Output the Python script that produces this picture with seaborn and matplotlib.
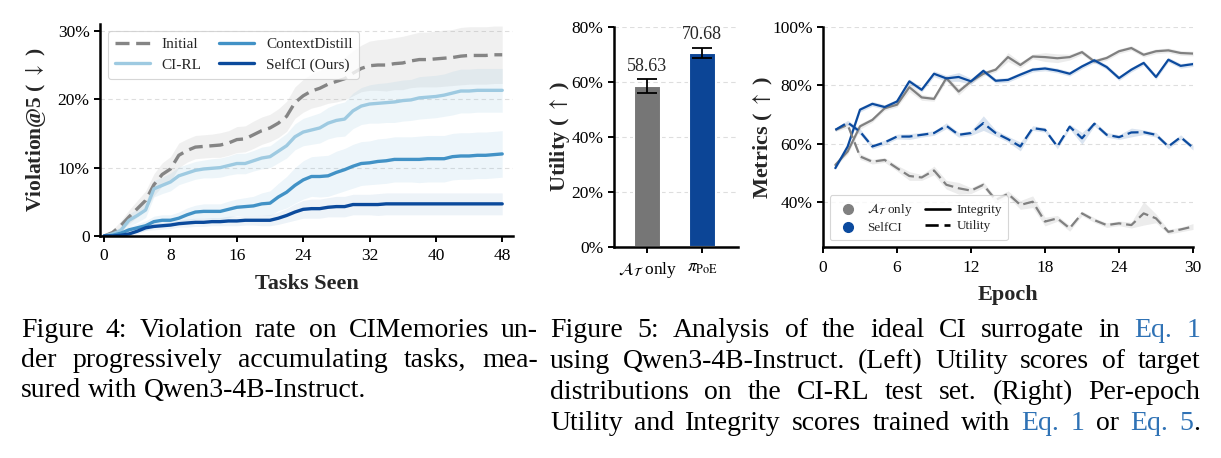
import numpy as np
import pandas as pd
import matplotlib
matplotlib.use("Agg")
import matplotlib.pyplot as plt
import seaborn as sns
from matplotlib.lines import Line2D
from matplotlib.ticker import FuncFormatter, FixedLocator
from matplotlib.transforms import IdentityTransform

# ---------------- data: Figure 4 (left) ----------------
tasks = list(range(49))
initial_mean = [0, 0.5, 1.5, 2.8, 4.0, 5.2, 7.5, 9.0, 9.8, 11.8,
                12.5, 13.0, 13.1, 13.2, 13.3, 13.6, 14.1, 14.2, 14.8, 15.4,
                15.8, 16.5, 17.5, 19.5, 20.5, 21.2, 21.6, 22.2, 22.6, 23.0,
                23.8, 24.5, 24.9, 25.0, 25.0, 25.2, 25.3, 25.6, 25.8, 25.8,
                25.9, 26.0, 26.1, 26.3, 26.4, 26.4, 26.4, 26.5, 26.5]
initial_sd = [0.0, 0.4, 0.7, 1.0, 1.2, 1.4, 1.6, 1.7, 1.8, 1.8,
              1.7, 1.7, 1.7, 1.7, 1.8, 1.8, 1.9, 1.9, 2.0, 2.0,
              2.0, 2.1, 2.2, 2.3, 2.4, 2.5, 2.6, 2.8, 3.0, 3.1,
              3.3, 3.4, 3.6, 3.7, 3.8, 3.8, 3.9, 3.9, 4.0, 4.0,
              4.1, 4.1, 4.1, 4.2, 4.2, 4.2, 4.2, 4.2, 4.2]
cirl_mean = [0, 0.3, 0.8, 2.3, 3.0, 3.8, 6.9, 7.4, 7.9, 8.8,
             9.2, 9.6, 9.8, 9.9, 10.0, 10.3, 10.6, 10.6, 11.0, 11.4,
             11.6, 12.4, 13.2, 14.5, 15.2, 15.5, 15.8, 16.5, 16.9, 17.1,
             18.3, 19.0, 19.3, 19.4, 19.5, 19.6, 19.8, 19.9, 20.2, 20.3,
             20.4, 20.6, 20.9, 21.2, 21.2, 21.3, 21.3, 21.3, 21.3]
cirl_sd = [0, 0.3, 0.6, 0.9, 1.0, 1.1, 1.2, 1.2, 1.3, 1.3,
           1.3, 1.3, 1.3, 1.4, 1.4, 1.4, 1.5, 1.5, 1.5, 1.6,
           1.6, 1.7, 1.8, 1.9, 2.0, 2.1, 2.2, 2.3, 2.4, 2.5,
           2.6, 2.7, 2.8, 2.9, 2.9, 3.0, 3.0, 3.0, 3.1, 3.1,
           3.1, 3.1, 3.2, 3.2, 3.2, 3.2, 3.2, 3.2, 3.2]
cd_mean = [0, 0.1, 0.4, 0.9, 1.2, 1.5, 2.1, 2.3, 2.3, 2.6,
           3.1, 3.5, 3.6, 3.6, 3.6, 3.9, 4.2, 4.3, 4.4, 4.7,
           4.8, 5.7, 6.4, 7.4, 8.2, 8.7, 8.7, 8.8, 9.3, 9.7,
           10.2, 10.6, 10.7, 10.9, 11.0, 11.2, 11.2, 11.2, 11.2, 11.3,
           11.3, 11.3, 11.6, 11.7, 11.7, 11.8, 11.8, 11.9, 12.0]
cd_sd = [0, 0.1, 0.3, 0.5, 0.6, 0.7, 0.8, 0.8, 0.8, 0.9,
         1.0, 1.0, 1.1, 1.1, 1.1, 1.2, 1.2, 1.3, 1.4, 1.6,
         1.8, 2.0, 2.3, 2.6, 2.8, 2.9, 3.0, 3.0, 3.1, 3.1,
         3.2, 3.2, 3.2, 3.3, 3.3, 3.3, 3.3, 3.3, 3.4, 3.4,
         3.4, 3.4, 3.4, 3.4, 3.4, 3.4, 3.4, 3.4, 3.4]
selfci_mean = [0, 0, 0.1, 0.3, 0.7, 1.2, 1.4, 1.5, 1.6, 1.8,
               1.9, 2.0, 2.0, 2.1, 2.1, 2.2, 2.2, 2.3, 2.3, 2.3,
               2.3, 2.6, 3.0, 3.5, 3.9, 4.0, 4.0, 4.2, 4.3, 4.3,
               4.6, 4.6, 4.6, 4.6, 4.7, 4.7, 4.7, 4.7, 4.7, 4.7,
               4.7, 4.7, 4.7, 4.7, 4.7, 4.7, 4.7, 4.7, 4.7]
selfci_sd = [0, 0.1, 0.2, 0.3, 0.4, 0.4, 0.5, 0.5, 0.5, 0.5,
             0.6, 0.6, 0.6, 0.6, 0.6, 0.7, 0.7, 0.7, 0.7, 0.8,
             0.8, 0.9, 1.0, 1.2, 1.3, 1.4, 1.4, 1.4, 1.5, 1.5,
             1.5, 1.5, 1.5, 1.6, 1.6, 1.6, 1.6, 1.6, 1.6, 1.6,
             1.6, 1.6, 1.6, 1.6, 1.6, 1.6, 1.6, 1.6, 1.6]
fig4_methods = ["Initial", "CI-RL", "ContextDistill", "SelfCI (Ours)"]
fig4_xticks = [0, 8, 16, 24, 32, 40, 48]
fig4_yticks = [0, 10, 20, 30]

# ---------------- data: Figure 5 (middle bars) ----------------
bar_labels = [r"$\mathcal{A}_{\mathcal{T}}$ only", r"$\pi_{\mathrm{PoE}}$"]
bar_values = [58.63, 70.68]
bar_errors = [2.5, 1.85]
bar_yticks = [0, 20, 40, 60, 80]

# ---------------- data: Figure 5 (right lines) ----------------
epochs = list(range(1, 31))
at_integrity = [52.8, 57.4, 66.0, 68.2, 72.2, 73.4, 79.4, 75.9, 75.4, 82.5,
                77.9, 81.4, 84.0, 85.4, 89.7, 87.0, 89.9, 89.7, 89.3, 89.7,
                91.4, 88.2, 89.4, 91.7, 92.8, 90.5, 91.7, 92.0, 91.1, 90.9]
self_integrity = [51.7, 59.1, 71.7, 73.7, 72.6, 74.5, 81.4, 78.5, 84.0, 82.4,
                  82.9, 81.4, 85.0, 81.6, 81.9, 83.7, 85.4, 85.8, 85.1, 84.0,
                  86.5, 88.6, 86.3, 82.5, 85.4, 87.7, 82.9, 88.8, 86.7, 87.3]
at_utility = [64.8, 66.5, 55.7, 53.9, 54.5, 51.7, 49.0, 48.5, 50.9, 46.0,
              44.8, 44.0, 46.0, 40.8, 42.9, 39.1, 40.2, 33.4, 34.5, 31.1,
              36.2, 33.9, 32.2, 32.8, 32.2, 36.2, 34.5, 29.9, 30.7, 31.7]
self_utility = [64.8, 67.3, 64.2, 59.1, 60.5, 62.5, 62.5, 63.1, 63.7, 66.2,
                63.1, 63.7, 67.1, 63.7, 61.6, 59.1, 65.4, 64.8, 59.1, 65.9,
                61.9, 66.9, 63.1, 62.3, 63.9, 64.0, 63.1, 59.1, 62.3, 58.7]
at_integrity_sd = [0.5, 1.0, 1.0, 0.8, 0.8, 0.8, 1.5, 1.0, 0.8, 1.0,
                   1.2, 0.8, 0.8, 0.8, 1.5, 1.0, 0.8, 1.5, 1.5, 1.0,
                   0.8, 0.8, 0.8, 0.8, 0.8, 0.8, 0.8, 0.8, 0.8, 0.8]
self_integrity_sd = [0.5, 0.8, 0.8, 0.8, 0.8, 0.8, 0.8, 0.8, 1.0, 1.0,
                     1.5, 1.0, 0.8, 0.8, 0.8, 0.8, 0.8, 0.8, 0.8, 0.8,
                     0.8, 0.8, 0.8, 0.8, 0.8, 0.8, 0.8, 0.8, 0.8, 0.8]
at_utility_sd = [0.5, 1.0, 1.0, 0.8, 0.8, 1.0, 1.5, 1.0, 1.5, 1.5,
                 2.0, 1.0, 1.0, 1.0, 1.0, 1.5, 2.0, 1.5, 1.0, 1.0,
                 0.8, 0.8, 0.8, 0.8, 1.0, 4.0, 1.5, 0.8, 0.8, 1.0]
self_utility_sd = [0.5, 0.8, 1.0, 0.8, 0.8, 0.8, 1.0, 0.8, 0.8, 1.0,
                   0.8, 0.8, 2.5, 1.0, 1.0, 1.5, 0.8, 0.8, 0.8, 0.8,
                   2.0, 0.8, 0.8, 0.8, 1.5, 0.8, 0.8, 0.8, 0.8, 0.8]
right_xticks = [0, 6, 12, 18, 24, 30]
right_yticks = [40, 60, 80, 100]

# ---------------- captions ----------------
LINK = "#2f72b5"
K = "black"
cap4 = [
    "Figure 4: Violation rate on CIMemories un-",
    "der progressively accumulating tasks, mea-",
    "sured with Qwen3-4B-Instruct.",
]
cap5 = [
    "Figure 5:  Analysis of the ideal CI surrogate in [Eq.] [1]",
    "using Qwen3-4B-Instruct. (Left) Utility scores of target",
    "distributions on the CI-RL test set. (Right) Per-epoch",
    "Utility and Integrity scores trained with [Eq.] [1] or [Eq.] [5]{.}",
]

# ---------------- style ----------------
sns.set_theme(style="ticks")
plt.rcParams.update({
    "font.family": ["Liberation Serif", "DejaVu Serif"],
    "mathtext.fontset": "stix",
    "axes.linewidth": 1.8,
    "axes.edgecolor": "black",
    "xtick.color": "black", "ytick.color": "black",
    "xtick.major.width": 1.4, "ytick.major.width": 1.4,
    "xtick.major.size": 4, "ytick.major.size": 4,
    "xtick.major.pad": 5, "ytick.major.pad": 3.5,
    "xtick.labelsize": 12.5, "ytick.labelsize": 12.5,
    "axes.labelsize": 16, "axes.labelweight": "bold",
})

W, H = 1221, 458
fig = plt.figure(figsize=(W / 100, H / 100), dpi=100)


def add_ax(x0, y0, x1, y1):
    return fig.add_axes([x0 / W, 1 - y1 / H, (x1 - x0) / W, (y1 - y0) / H])


def style_ax(ax):
    sns.despine(ax=ax)
    ax.yaxis.grid(True, ls=(0, (4, 3)), color="#dedede", lw=0.8)
    ax.xaxis.grid(False)
    ax.set_axisbelow(True)


# ---------------- left: Figure 4 ----------------
ax1 = add_ax(100, 24, 513, 236)
DASH4 = (0, (4.2, 2.0))
fig4_series = [
    ("Initial", initial_mean, initial_sd, "#858585", DASH4),
    ("CI-RL", cirl_mean, cirl_sd, "#9ecae1", "-"),
    ("ContextDistill", cd_mean, cd_sd, "#4292c6", "-"),
    ("SelfCI (Ours)", selfci_mean, selfci_sd, "#0b4a9c", "-"),
]
df4 = pd.DataFrame({
    "task": np.tile(tasks, len(fig4_series)),
    "value": np.concatenate([s[1] for s in fig4_series]),
    "method": np.repeat([s[0] for s in fig4_series], len(tasks)),
})
band_cols = {"Initial": ("#9a9a9a", 0.14), "CI-RL": ("#9ecae1", 0.18),
             "ContextDistill": ("#6baed6", 0.12), "SelfCI (Ours)": ("#2166ac", 0.08)}
for name, mean, sd, col, ls in fig4_series:
    m = np.array(mean); s = np.array(sd)
    bc, ba = band_cols[name]
    ax1.fill_between(tasks, m - s, m + s, color=bc, alpha=ba, lw=0)
handles4 = []
for name, mean, sd, col, ls in fig4_series:
    sub = df4[df4.method == name]
    sns.lineplot(data=sub, x="task", y="value", ax=ax1, color=col,
                 linestyle=ls, lw=2.4, errorbar=None, legend=False)
    handles4.append(Line2D([], [], color=col, lw=2.4, linestyle=ls, label=name))
ax1.set_xlim(-0.5, 49.3)
ax1.set_ylim(0, 31)
ax1.xaxis.set_major_locator(FixedLocator(fig4_xticks))
ax1.yaxis.set_major_locator(FixedLocator(fig4_yticks))
ax1.yaxis.set_major_formatter(FuncFormatter(lambda v, p: "0" if v == 0 else f"{v:.0f}%"))
ax1.set_xlabel("Tasks Seen", labelpad=7)
ax1.set_ylabel(r"Violation@5 ( $\downarrow$ )", labelpad=7, fontsize=15.5)
style_ax(ax1)
leg1 = ax1.legend(handles=handles4, loc="upper left", ncol=2, fontsize=11,
                  frameon=True, handlelength=2.3, handletextpad=0.8,
                  columnspacing=1.1, borderpad=0.45, labelspacing=0.45,
                  bbox_to_anchor=(0.0, 1.005))
leg1.get_frame().set_edgecolor("#cccccc")
leg1.get_frame().set_linewidth(0.8)

# ---------------- middle: bars ----------------
ax2 = add_ax(614, 27, 738, 247)
df_bar = pd.DataFrame({"target": bar_labels, "utility": bar_values})
sns.barplot(data=df_bar, x="target", y="utility", hue="target",
            palette=["#767676", "#0c4596"], saturation=1, width=0.5, ax=ax2,
            edgecolor="white", linewidth=1.5, legend=False, errorbar=None)
ax2.errorbar(range(len(bar_values)), bar_values, yerr=bar_errors, fmt="none",
             ecolor="black", elinewidth=1.3, capsize=7.5, capthick=1.3)
for i, (v, e) in enumerate(zip(bar_values, bar_errors)):
    ax2.annotate(f"{v:.2f}", (i, v + e), xytext=(0, 3), textcoords="offset points",
                 ha="center", va="bottom", fontsize=13)
ax2.set_xlim(-0.61, 1.65)
ax2.set_ylim(0, 80)
ax2.yaxis.set_major_locator(FixedLocator(bar_yticks))
ax2.yaxis.set_major_formatter(FuncFormatter(lambda v, p: f"{v:.0f}%"))
ax2.set_xlabel("")
ax2.set_ylabel(r"Utility ( $\uparrow$ )", labelpad=0)
ax2.tick_params(axis="x", labelsize=12.5)
style_ax(ax2)

# ---------------- right: per-epoch ----------------
ax3 = add_ax(823, 27, 1193, 247)
GRAY, BLUE = "#808080", "#0b4a9e"
DASH5 = (0, (5, 2.2))
right_series = [
    (at_integrity, at_integrity_sd, GRAY, "-"),
    (self_integrity, self_integrity_sd, BLUE, "-"),
    (at_utility, at_utility_sd, GRAY, DASH5),
    (self_utility, self_utility_sd, BLUE, DASH5),
]
for vals, sd, col, ls in right_series:
    m = np.array(vals); s = np.array(sd)
    ax3.fill_between(epochs, m - s, m + s, color=col, alpha=0.15, lw=0)
for vals, sd, col, ls in right_series:
    sns.lineplot(x=epochs, y=vals, ax=ax3, color=col, linestyle=ls, lw=1.6,
                 errorbar=None, legend=False)
ax3.set_xlim(0, 30)
ax3.set_ylim(24.7, 100)
ax3.xaxis.set_major_locator(FixedLocator(right_xticks))
ax3.yaxis.set_major_locator(FixedLocator(right_yticks))
ax3.yaxis.set_major_formatter(FuncFormatter(lambda v, p: f"{v:.0f}%"))
ax3.set_xlabel("Epoch", labelpad=7)
ax3.set_ylabel(r"Metrics ( $\uparrow$ )", labelpad=-2)
style_ax(ax3)
h3 = [
    Line2D([], [], color=GRAY, marker="o", ls="none", markersize=7,
           label=r"$\mathcal{A}_{\mathcal{T}}$ only"),
    Line2D([], [], color=BLUE, marker="o", ls="none", markersize=7, label="SelfCI"),
    Line2D([], [], color="black", lw=1.9, ls="-", label="Integrity"),
    Line2D([], [], color="black", lw=1.9, ls=DASH5, label="Utility"),
]
leg3 = ax3.legend(handles=h3, loc="lower left", ncol=2, fontsize=9.5,
                  handlelength=1.9, handletextpad=0.5, columnspacing=0.9,
                  borderpad=0.45, labelspacing=0.3)
leg3.get_frame().set_edgecolor("#cccccc")
leg3.get_frame().set_linewidth(0.8)

# ---------------- captions (justified) ----------------
renderer = fig.canvas.get_renderer()
CAP_FS = 20


def parse(line):
    words = []
    for tok in line.split():
        segs = []
        if tok.startswith("["):
            inner = tok[1:tok.index("]")]
            segs.append((inner, LINK))
            rest = tok[tok.index("]") + 1:]
            if rest.startswith("{"):
                segs.append((rest[1:-1], K))
        else:
            segs.append((tok, K))
        words.append(segs)
    return words


def draw_caption(lines, x0, x1, baselines, justify_flags):
    space = CAP_FS * 100 / 72 * 0.25
    for line, yb, just in zip(lines, baselines, justify_flags):
        words = parse(line)
        placed = []
        widths = []
        for w in words:
            segs = []
            total = 0.0
            for s, c in w:
                t = fig.text(0, 0, s, fontsize=CAP_FS, color=c, ha="left",
                             va="baseline", transform=IdentityTransform(),
                             family="Liberation Serif")
                wd = t.get_window_extent(renderer).width
                segs.append((t, wd))
                total += wd
            placed.append(segs)
            widths.append(total)
        if just and len(words) > 1:
            gap = max((x1 - x0 - sum(widths)) / (len(words) - 1), space * 0.5)
        else:
            gap = space
        x = x0
        for segs, wd in zip(placed, widths):
            xx = x
            for t, sw in segs:
                t.set_position((xx, H - yb))
                xx += sw
            x += wd + gap


draw_caption(cap4, 21, 538, [337, 367, 397], [True, True, False])
draw_caption(cap5, 550, 1200, [337, 368, 399, 430], [True, True, True, True])

fig.savefig("out.png", dpi=100)
